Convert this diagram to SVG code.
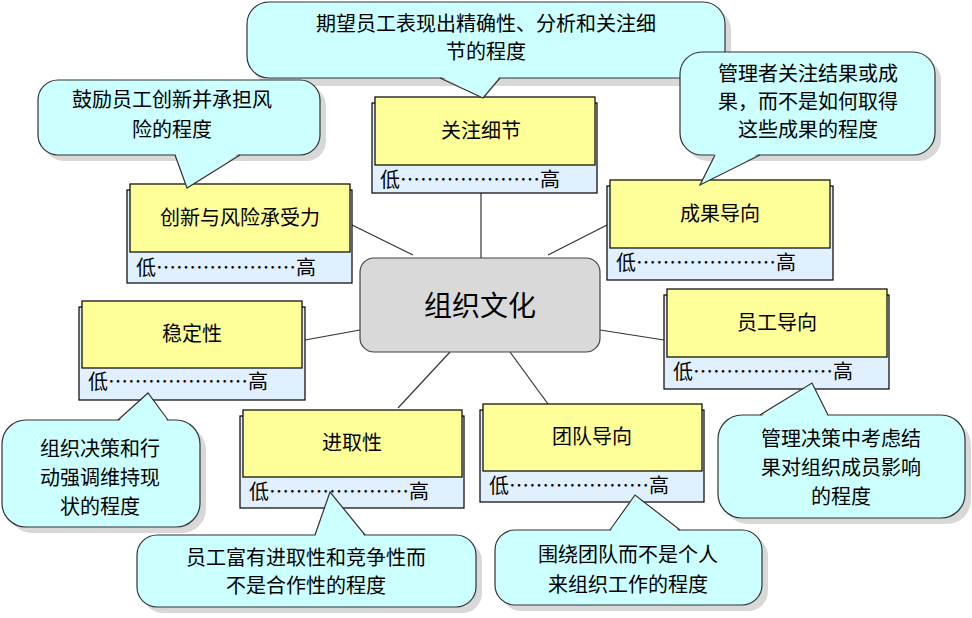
<svg xmlns="http://www.w3.org/2000/svg" width="972" height="618" viewBox="0 0 972 618">
<style>
text{font-family:"Noto Sans CJK SC","Liberation Sans",sans-serif;font-size:20px;fill:#000}
.b{fill:#e0f0ff;stroke:#000;stroke-width:1.2}
.y{fill:#ffff99;stroke:#000;stroke-width:1.2}
.c{fill:#ccffff;stroke:#333;stroke-width:1.2}
.cf{fill:#ccffff;stroke:none}
.ct{fill:none;stroke:#333;stroke-width:1.2}
.sh{fill:#d8d8d8}
.m{text-anchor:middle}
.ln{stroke:#333;stroke-width:1.2}
</style>
<g id="connectors">
<line class="ln" x1="481" y1="193" x2="481" y2="258"/>
<line class="ln" x1="352" y1="225" x2="413" y2="255"/>
<line class="ln" x1="607" y1="225" x2="548" y2="255"/>
<line class="ln" x1="305" y1="340" x2="360" y2="330"/>
<line class="ln" x1="664" y1="340" x2="600" y2="330"/>
<line class="ln" x1="398" y1="408" x2="450" y2="352"/>
<line class="ln" x1="548" y1="404" x2="510" y2="352"/>
</g>
<g id="center">
<rect x="360" y="258" width="240" height="94" rx="14" fill="#d9d9d9" stroke="#444" stroke-width="1.2"/>
<text x="480" y="316" class="m" style="font-size:28px">组织文化</text>
</g>
<g id="n1"><rect class="b" x="372" y="103" width="225" height="90"/><rect class="y" x="375" y="97" width="220" height="68"/><text x="481" y="138" class="m">关注细节</text><text x="380" y="187">低…………………高</text></g>
<g id="n2"><rect class="b" x="127" y="190" width="225" height="93"/><rect class="y" x="130" y="184" width="220" height="68"/><text x="240" y="225" class="m">创新与风险承受力</text><text x="136" y="275">低…………………高</text></g>
<g id="n3"><rect class="b" x="607" y="186" width="226" height="94"/><rect class="y" x="610" y="180" width="220" height="68"/><text x="720" y="221" class="m">成果导向</text><text x="616" y="270">低…………………高</text></g>
<g id="n4"><rect class="b" x="79" y="307" width="226" height="93"/><rect class="y" x="82" y="301" width="220" height="67"/><text x="192" y="341" class="m">稳定性</text><text x="88" y="389">低…………………高</text></g>
<g id="n5"><rect class="b" x="664" y="295" width="225" height="94"/><rect class="y" x="667" y="289" width="220" height="68"/><text x="777" y="330" class="m">员工导向</text><text x="673" y="379">低…………………高</text></g>
<g id="n6"><rect class="b" x="240" y="416" width="224" height="92"/><rect class="y" x="243" y="410" width="219" height="67"/><text x="352" y="450" class="m">进取性</text><text x="249" y="499">低…………………高</text></g>
<g id="n7"><rect class="b" x="480" y="410" width="224" height="92"/><rect class="y" x="483" y="404" width="219" height="67"/><text x="592" y="444" class="m">团队导向</text><text x="489" y="493">低…………………高</text></g>

<g id="callout1">
<rect class="sh" x="253" y="8" width="478" height="78" rx="22"/>
<rect class="c" x="247" y="2" width="478" height="76" rx="22"/>
<polygon class="cf" points="440,76 483,98 500,76"/><polyline class="ct" points="440,78 483,98 500,78"/>
<text x="486" y="31" class="m">期望员工表现出精确性、分析和关注细</text><text x="486" y="59" class="m">节的程度</text>
</g>
<g id="callout2">
<rect class="sh" x="44" y="86" width="282" height="75" rx="20"/>
<rect class="c" x="38" y="80" width="282" height="75" rx="20"/>
<polygon class="cf" points="175,153 187,188 240,153"/><polyline class="ct" points="175,155 187,188 240,155"/>
<text x="172" y="107" class="m">鼓励员工创新并承担风</text><text x="172" y="137" class="m">险的程度</text>
</g>
<g id="callout3">
<rect class="sh" x="686" y="58" width="255" height="103" rx="22"/>
<rect class="c" x="680" y="52" width="255" height="103" rx="22"/>
<polygon class="cf" points="715,153 700,185 760,153"/><polyline class="ct" points="715,155 700,185 760,155"/>
<text x="808" y="81" class="m">管理者关注结果或成</text><text x="808" y="109" class="m">果，而不是如何取得</text><text x="808" y="137" class="m">这些成果的程度</text>
</g>
<g id="callout4">
<rect class="sh" x="8" y="426" width="198" height="107" rx="24"/>
<rect class="c" x="2" y="420" width="198" height="107" rx="24"/>
<polygon class="cf" points="118,422 148,393 168,422"/><polyline class="ct" points="118,420 148,393 168,420"/>
<text x="100" y="456" class="m">组织决策和行</text><text x="100" y="485" class="m">动强调维持现</text><text x="100" y="514" class="m">状的程度</text>
</g>
<g id="callout5">
<rect class="sh" x="143" y="541" width="339" height="72" rx="20"/>
<rect class="c" x="137" y="535" width="339" height="72" rx="20"/>
<polygon class="cf" points="315,537 330,492 365,537"/><polyline class="ct" points="315,535 330,492 365,535"/>
<text x="306" y="565" class="m">员工富有进取性和竞争性而</text><text x="306" y="593" class="m">不是合作性的程度</text>
</g>
<g id="callout6">
<rect class="sh" x="501" y="536" width="267" height="75" rx="20"/>
<rect class="c" x="495" y="530" width="267" height="75" rx="20"/>
<polygon class="cf" points="610,532 635,495 680,532"/><polyline class="ct" points="610,530 635,495 680,530"/>
<text x="628" y="562" class="m">围绕团队而不是个人</text><text x="628" y="592" class="m">来组织工作的程度</text>
</g>
<g id="callout7">
<rect class="sh" x="724" y="421" width="247" height="103" rx="24"/>
<rect class="c" x="718" y="415" width="247" height="103" rx="24"/>
<polygon class="cf" points="760,417 812,383 828,417"/><polyline class="ct" points="760,415 812,383 828,415"/>
<text x="841" y="446" class="m">管理决策中考虑结</text><text x="841" y="475" class="m">果对组织成员影响</text><text x="841" y="504" class="m">的程度</text>
</g>
</svg>
